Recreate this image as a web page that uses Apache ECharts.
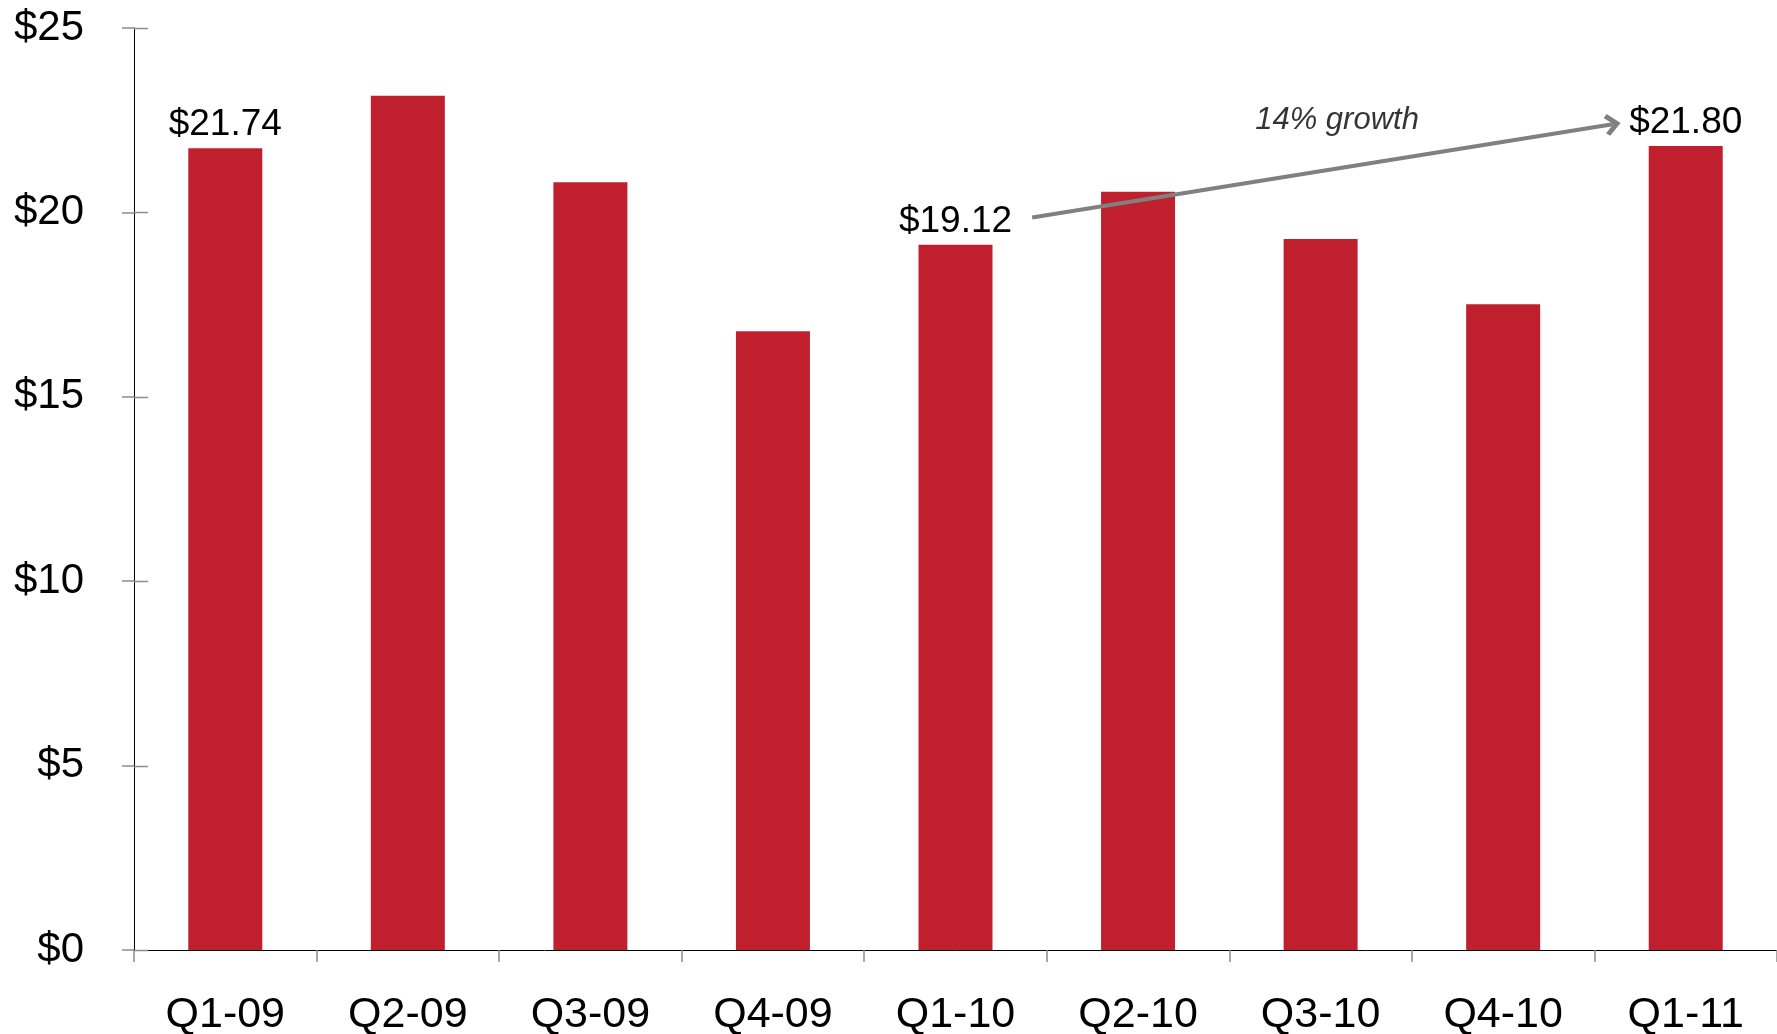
<!DOCTYPE html>
<html>
<head>
<meta charset="utf-8">
<script src="https://cdn.jsdelivr.net/npm/echarts@6/dist/echarts.min.js"></script>
<style>
  html, body { margin: 0; padding: 0; background: #ffffff; }
  #chart { width: 1777px; height: 1034px; }
</style>
</head>
<body>
<div id="chart"></div>
<script>
// ---- data ----
const categories = ['Q1-09', 'Q2-09', 'Q3-09', 'Q4-09', 'Q1-10', 'Q2-10', 'Q3-10', 'Q4-10', 'Q1-11'];
const values = [21.74, 23.16, 20.82, 16.78, 19.12, 20.56, 19.28, 17.51, 21.80];
const labeledCategories = ['Q1-09', 'Q1-10', 'Q1-11'];
const yTicks = [0, 5, 10, 15, 20, 25];
// annotation (in category-index / value units)
const arrowFrom = [4.42, 19.86];
const arrowTo = [7.60, 22.39];
const growthText = '14% growth';
const growthPos = [6.09, 22.07];

const FONT = '"Liberation Sans", Arial, sans-serif';
const TICK_COLOR = '#8c8c8c';

const chart = echarts.init(document.getElementById('chart'), null, { renderer: 'canvas' });

const barData = values.map((v, i) => ({
  value: v,
  label: { show: labeledCategories.indexOf(categories[i]) >= 0 }
}));

const option = {
  backgroundColor: '#ffffff',
  animation: false,
  grid: { left: 134, right: 0, top: 28, bottom: 84, containLabel: false, outerBoundsMode: 'none' },
  xAxis: [
    {
      type: 'category',
      data: categories,
      boundaryGap: true,
      axisLine: { show: true, onZero: false, lineStyle: { color: '#000000', width: 1 } },
      axisTick: { show: true, length: 12, lineStyle: { color: TICK_COLOR, width: 1.5 } },
      axisLabel: { color: '#000000', fontSize: 43, fontFamily: FONT, margin: 44 },
      splitLine: { show: false }
    },
    {
      type: 'value',
      min: -0.5,
      max: 8.5,
      show: false
    }
  ],
  yAxis: [
    {
      type: 'value',
      min: 0,
      max: yTicks[yTicks.length - 1],
      interval: 5,
      axisLine: { show: true, onZero: false, lineStyle: { color: '#000000', width: 1 } },
      axisTick: { show: true, length: 12, lineStyle: { color: TICK_COLOR, width: 1.5 } },
      axisLabel: {
        color: '#000000', fontSize: 42, fontFamily: FONT, margin: 50,
        formatter: v => '$' + v
      },
      splitLine: { show: false }
    }
  ],
  series: [
    {
      type: 'bar',
      data: barData,
      barWidth: 74,
      itemStyle: { color: '#C0202E' },
      label: {
        show: false,
        position: 'top',
        distance: 5,
        color: '#000000',
        fontSize: 37,
        fontFamily: FONT,
        formatter: p => '$' + p.value.toFixed(2)
      }
    },
    {
      // inner half of the y-axis ticks (ticks cross the axis line)
      type: 'custom',
      xAxisIndex: 1,
      yAxisIndex: 0,
      silent: true,
      data: yTicks.map(t => [-0.5, t]),
      renderItem: function (params, api) {
        const p = api.coord([api.value(0), api.value(1)]);
        const y = Math.round(p[1]) + 0.5;
        return {
          type: 'line',
          shape: { x1: p[0], y1: y, x2: p[0] + 14, y2: y },
          style: { stroke: TICK_COLOR, lineWidth: 1.5 }
        };
      }
    },
    {
      type: 'scatter',
      xAxisIndex: 1,
      yAxisIndex: 0,
      symbolSize: 1,
      itemStyle: { color: 'rgba(255,255,255,0)' },
      data: [growthPos],
      label: {
        show: true,
        position: 'top',
        distance: 0,
        formatter: growthText,
        color: '#000000',
        textBorderWidth: 0,
        fontSize: 31,
        fontStyle: 'italic',
        fontFamily: FONT
      },
      silent: true,
      markLine: {
        silent: true,
        symbol: ['none', 'path://M5,0 L10,5 L8.5,6.5 L5,3 L1.5,6.5 L0,5 Z'],
        symbolSize: [22, 16],
        label: { show: false },
        lineStyle: { color: '#808080', width: 4, type: 'solid' },
        data: [[{ coord: arrowFrom }, { coord: arrowTo }]]
      }
    }
  ]
};

chart.setOption(option);
</script>
</body>
</html>
